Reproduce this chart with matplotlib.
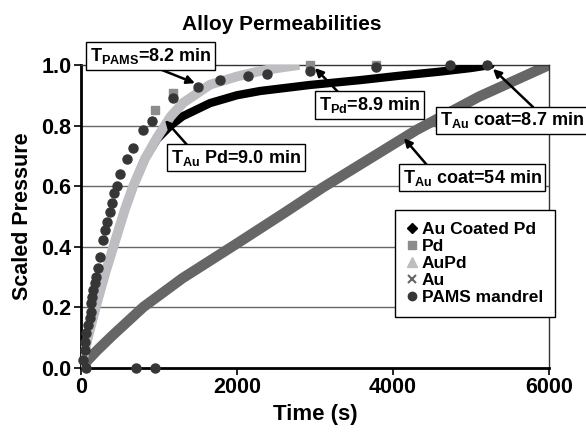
import matplotlib
matplotlib.use("Agg")
import matplotlib.pyplot as plt
from matplotlib.lines import Line2D

# ---------------- data ----------------
au_t = [0, 200, 400, 800, 1300, 2000, 2600, 3100, 3700, 4300, 5100, 6000]
au_y = [0, 0.055, 0.105, 0.20, 0.295, 0.41, 0.51, 0.595, 0.69, 0.785, 0.895, 1.00]

aupd_t = [0, 100, 200, 320, 440, 560, 670, 820, 975, 1150, 1310, 1654, 2000, 2295, 2600, 2800]
aupd_y = [0, 0.11, 0.21, 0.32, 0.42, 0.52, 0.60, 0.69, 0.76, 0.83, 0.875, 0.935, 0.962, 0.98, 0.993, 1.00]

aucpd_t = [0, 100, 200, 320, 440, 560, 670, 820, 975, 1150, 1300, 1654, 2000, 2295, 2935, 3577, 4100, 4600, 5000, 5250]
aucpd_y = [0, 0.11, 0.21, 0.32, 0.42, 0.52, 0.60, 0.69, 0.755, 0.80, 0.83, 0.874, 0.90, 0.914, 0.934, 0.95, 0.965, 0.978, 0.99, 1.00]

pd_t = [950, 1180, 2935, 3780]
pd_y = [0.85, 0.907, 1.00, 1.00]

pams_t = [26, 47, 55, 68, 90, 111, 124, 132, 141, 154, 175, 196, 218, 244, 282, 308,
          333, 372, 397, 423, 460, 500, 590, 667, 795, 910, 1180, 1500, 1780, 2137,
          2380, 2935, 3780, 4730, 5200, 64, 705, 950]
pams_y = [0.025, 0.058, 0.085, 0.113, 0.14, 0.163, 0.184, 0.212, 0.234, 0.256, 0.278,
          0.30, 0.328, 0.365, 0.42, 0.455, 0.48, 0.514, 0.543, 0.577, 0.60, 0.64, 0.69,
          0.726, 0.785, 0.815, 0.89, 0.927, 0.95, 0.963, 0.97, 0.98, 0.993, 1.0, 1.0,
          0.0, 0.0, 0.0]

series_labels = ["Au Coated Pd", "Pd", "AuPd", "Au", "PAMS mandrel"]
x_ticks = [0, 2000, 4000, 6000]
y_ticks = [0.0, 0.2, 0.4, 0.6, 0.8, 1.0]
grid_y = [0.2, 0.4, 0.6, 0.8]

# annotations: text, text left anchor, arrow tail, arrow head (data coords)
ann_texts = [r"$\mathrm{T_{PAMS}}$=8.2 min", r"$\mathrm{T_{Au}}$ Pd=9.0 min",
             r"$\mathrm{T_{Pd}}$=8.9 min", r"$\mathrm{T_{Au}}$ coat=8.7 min",
             r"$\mathrm{T_{Au}}$ coat=54 min"]
ann_anchor = [(115, 1.030), (1154, 0.693), (3051, 0.868), (4603, 0.817), (4128, 0.628)]
ann_tail = [(974, 0.990), (1359, 0.736), (3295, 0.911), (5795, 0.861), (4436, 0.669)]
ann_head = [(1461, 0.940), (1077, 0.818), (3000, 0.990), (5282, 0.987), (4141, 0.758)]

# ---------------- style ----------------
FONT = ["Liberation Sans", "DejaVu Sans"]
plt.rcParams["font.family"] = FONT
plt.rcParams["font.weight"] = "bold"
plt.rcParams["mathtext.fontset"] = "custom"
plt.rcParams["mathtext.rm"] = "Liberation Sans:bold"
plt.rcParams["mathtext.it"] = "Liberation Sans:bold"
plt.rcParams["mathtext.bf"] = "Liberation Sans:bold"

c_black = "#000000"
c_pd = "#8c8c8c"
c_aupd = "#bdbdc2"
c_au = "#666666"
c_pams = "#363636"

fig = plt.figure(figsize=(5.86, 4.36), dpi=100)
ax = fig.add_axes([81 / 586, 1 - 367.5 / 436, (549 - 81) / 586, (367.5 - 65) / 436])

ax.set_xlim(0, 6000)
ax.set_ylim(0, 1.0)
ax.set_xticks(x_ticks)
ax.set_yticks(y_ticks)
ax.set_yticklabels([f"{v:.1f}" for v in y_ticks])

for gy in grid_y:
    ax.plot([0, 6000], [gy, gy], color="#666666", lw=1.0, zorder=1.5)

ax.plot(au_t, au_y, color=c_au, lw=7.5, solid_capstyle="butt", zorder=2)
ax.plot(aucpd_t, aucpd_y, color=c_black, lw=6.0, solid_capstyle="round", zorder=3)
ax.plot(aupd_t, aupd_y, color=c_aupd, lw=7.0, solid_capstyle="butt", zorder=4)
ax.plot(pd_t, pd_y, ls="none", marker="s", ms=6, color=c_pd, zorder=5, clip_on=False)
ax.plot(pams_t, pams_y, ls="none", marker="o", ms=6.5, color=c_pams, zorder=6, clip_on=False)

ax.tick_params(axis="both", direction="out", length=5, width=1.2, labelsize=15.5, pad=2)

for s in ["left", "bottom"]:
    ax.spines[s].set_linewidth(2.0)
    ax.spines[s].set_color("black")
for s in ["top", "right"]:
    ax.spines[s].set_linewidth(1.0)
    ax.spines[s].set_color("#333333")

ax.set_xlabel("Time (s)", fontsize=16, fontweight="bold", labelpad=4)
ax.set_ylabel("Scaled Pressure", fontsize=15.5, fontweight="bold", labelpad=6)
fig.text(282 / 586, 1 - 24 / 436, "Alloy Permeabilities", ha="center", va="center",
         fontsize=15, fontweight="bold")

for txt, c, t0, h in zip(ann_texts, ann_anchor, ann_tail, ann_head):
    ax.annotate("", xy=h, xytext=t0, annotation_clip=False,
                arrowprops=dict(arrowstyle="-|>", color="black", lw=1.8,
                                mutation_scale=12, shrinkA=0, shrinkB=0), zorder=8)
    ax.text(c[0], c[1], txt, ha="left", va="center", fontsize=13, fontweight="bold",
            zorder=9, clip_on=False,
            bbox=dict(boxstyle="square,pad=0.2", fc="white", ec="black", lw=1.0))

handles = [
    Line2D([], [], ls="none", marker="D", ms=5, color=c_black),
    Line2D([], [], ls="none", marker="s", ms=6, color=c_pd),
    Line2D([], [], ls="none", marker="^", ms=7, color=c_aupd),
    Line2D([], [], ls="none", marker="x", ms=6, mew=1.5, color=c_au),
    Line2D([], [], ls="none", marker="o", ms=6, color=c_pams),
]
leg = fig.legend(handles, series_labels, loc="upper left",
                 bbox_to_anchor=(395 / 586, 1 - 210 / 436), fontsize=12.5,
                 frameon=True, fancybox=False, edgecolor="black", framealpha=1,
                 handlelength=0.6, handletextpad=0.25, labelspacing=0.1,
                 borderpad=0.7, borderaxespad=0)
leg.get_frame().set_linewidth(1.0)
leg.set_zorder(10)

fig.savefig("out.png", dpi=100)
